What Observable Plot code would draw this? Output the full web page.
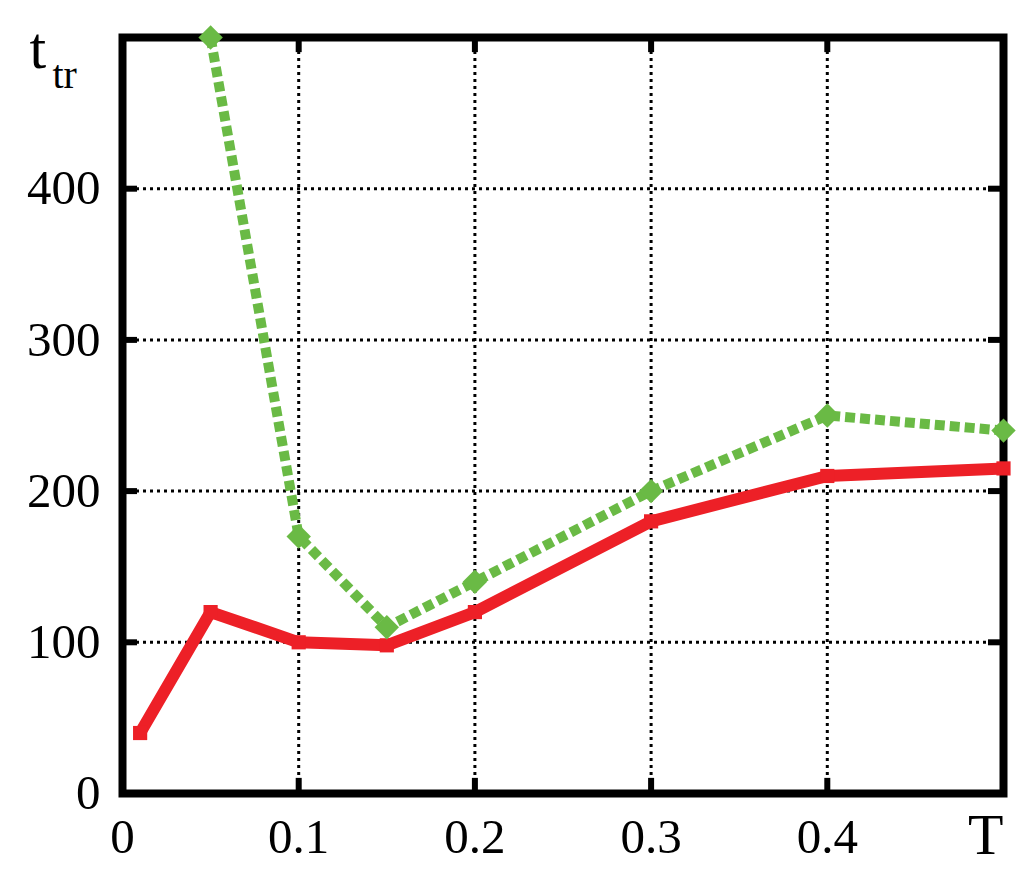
<!DOCTYPE html>
<html>
<head>
<meta charset="utf-8">
<script src="https://cdn.jsdelivr.net/npm/d3@7"></script>
<script src="https://cdn.jsdelivr.net/npm/@observablehq/plot@0.6"></script>
<style>
  body { margin: 0; background: #fff; }
</style>
</head>
<body>
<div id="chart"></div>
<script>
// red series (solid)
const redT = [0.01, 0.05, 0.1, 0.15, 0.2, 0.3, 0.4, 0.5]
const redY = [40, 120, 100, 98, 120, 180, 210, 215]
// green series (dashed)
const greenT = [0.05, 0.1, 0.15, 0.2, 0.3, 0.4, 0.5]
const greenY = [500, 170, 110, 140, 200, 250, 240]

const xTicks = [0, 0.1, 0.2, 0.3, 0.4]
const yTicks = [0, 100, 200, 300, 400]
const xDomain = [0, 0.5]
const yDomain = [0, 500]

const red = redT.map((t, i) => ({t, v: redY[i]}))
const green = greenT.map((t, i) => ({t, v: greenY[i]}))

const font = '"Liberation Serif", "Times New Roman", serif'
const tickLenY = 10     // in y units
const tickLenX = 0.0085 // in x units
const innerX = xTicks.filter(d => d > xDomain[0])
const innerY = yTicks.filter(d => d > yDomain[0])
const gridStyle = {stroke: '#000', strokeOpacity: 1, strokeWidth: 3, strokeDasharray: '3,4'}

let chart = Plot.plot({
  width: 1024,
  height: 883,
  marginLeft: 122,
  marginRight: 21,
  marginTop: 37,
  marginBottom: 90,
  style: {fontFamily: font, background: '#fff'},
  x: {domain: xDomain},
  y: {domain: yDomain},
  marks: [
    Plot.gridX(innerX, gridStyle),
    Plot.gridY(innerY, gridStyle),
    Plot.frame({stroke: '#000', strokeWidth: 8}),
    // inward ticks on all four sides
    Plot.ruleX(innerX, {x: d => d, y1: yDomain[0], y2: yDomain[0] + tickLenY, stroke: '#000', strokeWidth: 6}),
    Plot.ruleX(innerX, {x: d => d, y1: yDomain[1], y2: yDomain[1] - tickLenY, stroke: '#000', strokeWidth: 6}),
    Plot.ruleY(innerY, {y: d => d, x1: xDomain[0], x2: xDomain[0] + tickLenX, stroke: '#000', strokeWidth: 6}),
    Plot.ruleY(innerY, {y: d => d, x1: xDomain[1], x2: xDomain[1] - tickLenX, stroke: '#000', strokeWidth: 6}),
    Plot.axisX(xTicks, {
      anchor: 'bottom', tickSize: 0, tickPadding: 25,
      tickFormat: d => d === 0 ? '0' : d3.format('.1f')(d),
      fontSize: 49, fill: '#000', label: null
    }),
    Plot.axisY(yTicks, {
      anchor: 'left', tickSize: 0, tickPadding: 22,
      tickFormat: d => String(d),
      fontSize: 49, fill: '#000', label: null
    }),
    Plot.line(red, {x: 't', y: 'v', stroke: '#ed2027', strokeWidth: 12, strokeLinejoin: 'miter', strokeLinecap: 'butt'}),
    Plot.dot(red, {x: 't', y: 'v', symbol: 'square', r: 8, fill: '#ed2027'}),
    Plot.line(green, {x: 't', y: 'v', stroke: '#6aba45', strokeWidth: 10, strokeDasharray: '10,5', strokeLinecap: 'butt'}),
    Plot.dot(green, {x: 't', y: 'v', symbol: 'diamond2', r: 11, fill: '#6aba45'}),
    // axis titles
    Plot.text(['t'], {frameAnchor: 'top-left', dx: -93, dy: 30, textAnchor: 'start', lineAnchor: 'bottom', fontSize: 60, fill: '#000'}),
    Plot.text(['tr'], {frameAnchor: 'top-left', dx: -70, dy: 50, textAnchor: 'start', lineAnchor: 'bottom', fontSize: 40, fill: '#000'}),
    Plot.text(['T'], {frameAnchor: 'bottom-right', dx: 0, dy: 60, textAnchor: 'end', lineAnchor: 'bottom', fontSize: 58, fill: '#000'})
  ]
})
d3.select('#chart').append(() => chart)
</script>
</body>
</html>
